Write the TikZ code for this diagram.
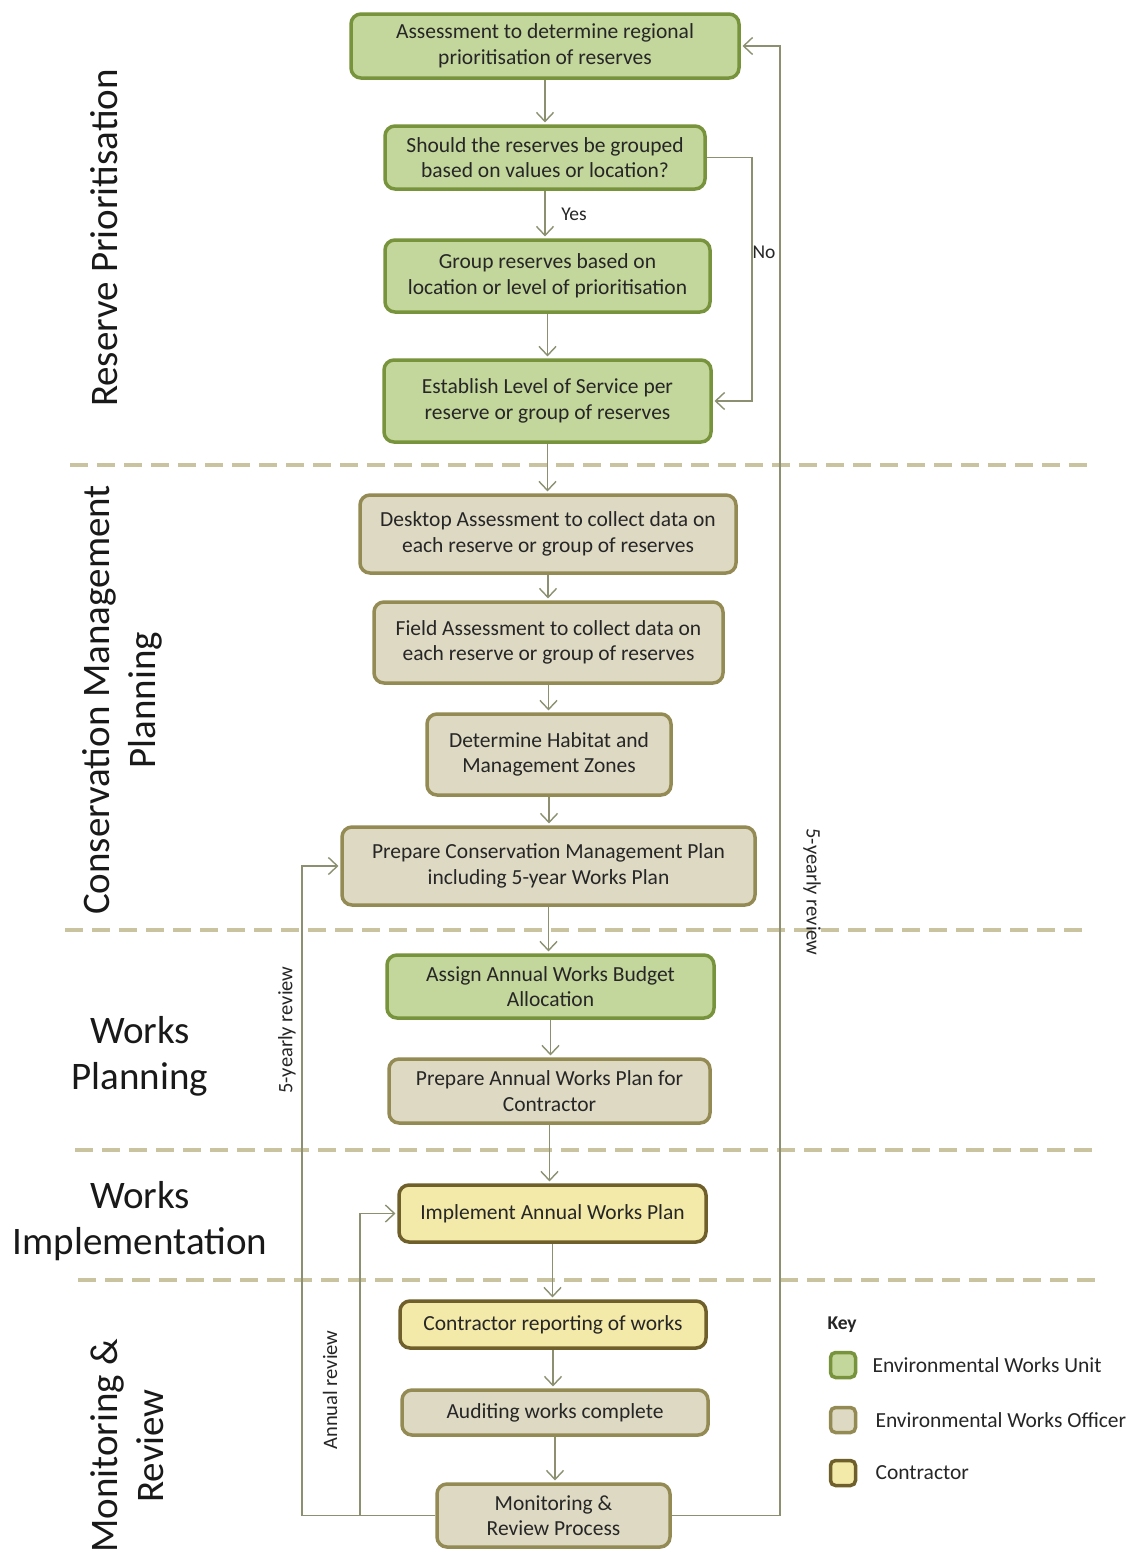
\documentclass[tikz,border=0pt]{standalone}
\usepackage{fontspec}
\setmainfont{Carlito}
\usetikzlibrary{arrows.meta}
\definecolor{gfill}{HTML}{C3D69B}
\definecolor{gdraw}{HTML}{77933C}
\definecolor{tfill}{HTML}{DDD9C3}
\definecolor{tdraw}{HTML}{948A54}
\definecolor{yfill}{HTML}{F3E9A8}
\definecolor{ydraw}{HTML}{6F5F2A}
\definecolor{conncol}{HTML}{8C9070}
\definecolor{sepcol}{HTML}{C9C3A0}
\definecolor{txt}{HTML}{262626}
\begin{document}
\begin{tikzpicture}[x=1pt,y=-1pt,
  box/.style={rounded corners=10pt, line width=3.5pt, align=center, inner sep=0pt, text=txt,
    font=\fontsize{21.5}{25.5}\selectfont},
  gbox/.style={box, fill=gfill, draw=gdraw},
  tbox/.style={box, fill=tfill, draw=tdraw},
  ybox/.style={box, fill=yfill, draw=ydraw},
  conn/.style={draw=conncol, line width=1.4pt, -{Straight Barb[length=9pt,width=17pt]}, shorten >=1.8pt},
  sepline/.style={draw=sepcol, line width=3.5pt, dash pattern=on 18pt off 9pt},
  section/.style={align=center, text=black!90, font=\fontsize{39}{46}\selectfont},
  small/.style={text=txt, font=\fontsize{19.5}{22}\selectfont},
  review/.style={text=txt, font=\fontsize{20.5}{22}\selectfont},
  keybox/.style={rounded corners=5pt, line width=3.5pt, minimum size=25pt, inner sep=0pt},
  keytext/.style={anchor=west, text=txt, font=\fontsize{21.5}{24}\selectfont}
]
\useasboundingbox[fill=white] (0,0) rectangle (1137,1558);

% separators
\draw[sepline] (70,465) -- (1092,465);
\draw[sepline] (65,930) -- (1085,930);
\draw[sepline] (75,1150) -- (1095,1150);
\draw[sepline] (78,1280) -- (1097,1280);

% section labels
\node[section, rotate=90] (sRP) at (104,238) {Reserve Prioritisation};
\node[section, rotate=90] (sCMP) at (122,700) {Conservation Management\\Planning};
\node[section] (sWP) at (140,1056) {Works\\Planning};
\node[section] (sWI) at (140,1221) {Works\\Implementation};
\node[section, rotate=90] (sMR) at (127,1446) {Monitoring \&\\Review};

% boxes
\node[gbox, minimum width=388pt, minimum height=64pt] (A1) at (545,46) {Assessment to determine regional\\prioritisation of reserves};
\node[gbox, minimum width=320pt, minimum height=63pt] (A2) at (545,157.5) {Should the reserves be grouped\\based on values or location?};
\node[gbox, minimum width=325pt, minimum height=72pt] (A3) at (547.5,276) {Group reserves based on\\location or level of prioritisation};
\node[gbox, minimum width=327pt, minimum height=82pt] (A4) at (547.5,401) {Establish Level of Service per\\reserve or group of reserves};
\node[tbox, minimum width=376pt, minimum height=78pt] (B1) at (548,534) {Desktop Assessment to collect data on\\each reserve or group of reserves};
\node[tbox, minimum width=349pt, minimum height=81pt] (B2) at (548.5,642.5) {Field Assessment to collect data on\\each reserve or group of reserves};
\node[tbox, minimum width=244pt, minimum height=81pt] (B3) at (549,754.5) {Determine Habitat and\\Management Zones};
\node[tbox, minimum width=413pt, minimum height=78pt] (B4) at (548.5,866) {Prepare Conservation Management Plan\\including 5-year Works Plan};
\node[gbox, minimum width=327pt, minimum height=63pt] (C1) at (550.5,986.5) {Assign Annual Works Budget\\Allocation};
\node[tbox, minimum width=321pt, minimum height=64pt] (C2) at (549.5,1091) {Prepare Annual Works Plan for\\Contractor};
\node[ybox, minimum width=307pt, minimum height=57pt] (D1) at (552.5,1213.5) {Implement Annual Works Plan};
\node[ybox, minimum width=306pt, minimum height=47pt] (E1) at (553,1324.5) {Contractor reporting of works};
\node[tbox, minimum width=306pt, minimum height=45pt] (E2) at (555,1412.5) {Auditing works complete};
\node[tbox, minimum width=233pt, minimum height=63pt] (E3) at (553.5,1515.5) {Monitoring \&\\Review Process};

% main flow
\foreach \a/\b in {A1/A2,A2/A3,A3/A4,A4/B1,B1/B2,B2/B3,B3/B4,B4/C1,C1/C2,C2/D1,D1/E1,E1/E2,E2/E3}
  \draw[conn] (\a.south) -- (\a.south |- \b.north);

\node[small] (yes) at (574,214) {Yes};

% No branch
\coordinate (noX) at (752,0);
\draw[conn] (A2.east) -- (A2.east -| noX) -- (noX |- A4.east) -- (A4.east);
\node[small] (no) at (764,252) {No};

% feedback loops
\coordinate (rX) at (780,0);
\coordinate (lX) at (302,0);
\coordinate (aX) at (360,0);
\draw[conn] (E3.east) -- (E3.east -| rX) -- (rX |- A1.east) -- (A1.east);
\draw[conn] (E3.west) -- (E3.west -| lX) -- (lX |- B4.west) -- (B4.west);
\coordinate (junc) at (E3.west -| aX);
\draw[conn] (junc) -- (aX |- D1.west) -- (D1.west);

\node[review, rotate=-90] (r5) at (812,892) {5-yearly review};
\node[review, rotate=90] (l5) at (287,1030) {5-yearly review};
\node[review, rotate=90] (ar) at (330,1390) {Annual review};

% key
\node[anchor=west, text=txt, font=\bfseries\fontsize{19.5}{22}\selectfont] (key) at (824,1325) {Key};
\node[keybox, fill=gfill, draw=gdraw] (k1) at (843,1365) {};
\node[keybox, fill=tfill, draw=tdraw] (k2) at (843,1420) {};
\node[keybox, fill=yfill, draw=ydraw] (k3) at (843,1473) {};
\node[keytext] (k1t) at (869,1365) {Environmental Works Unit};
\node[keytext] (k2t) at (872,1420) {Environmental Works Officer};
\node[keytext] (k3t) at (872,1473) {Contractor};
\end{tikzpicture}
\end{document}
